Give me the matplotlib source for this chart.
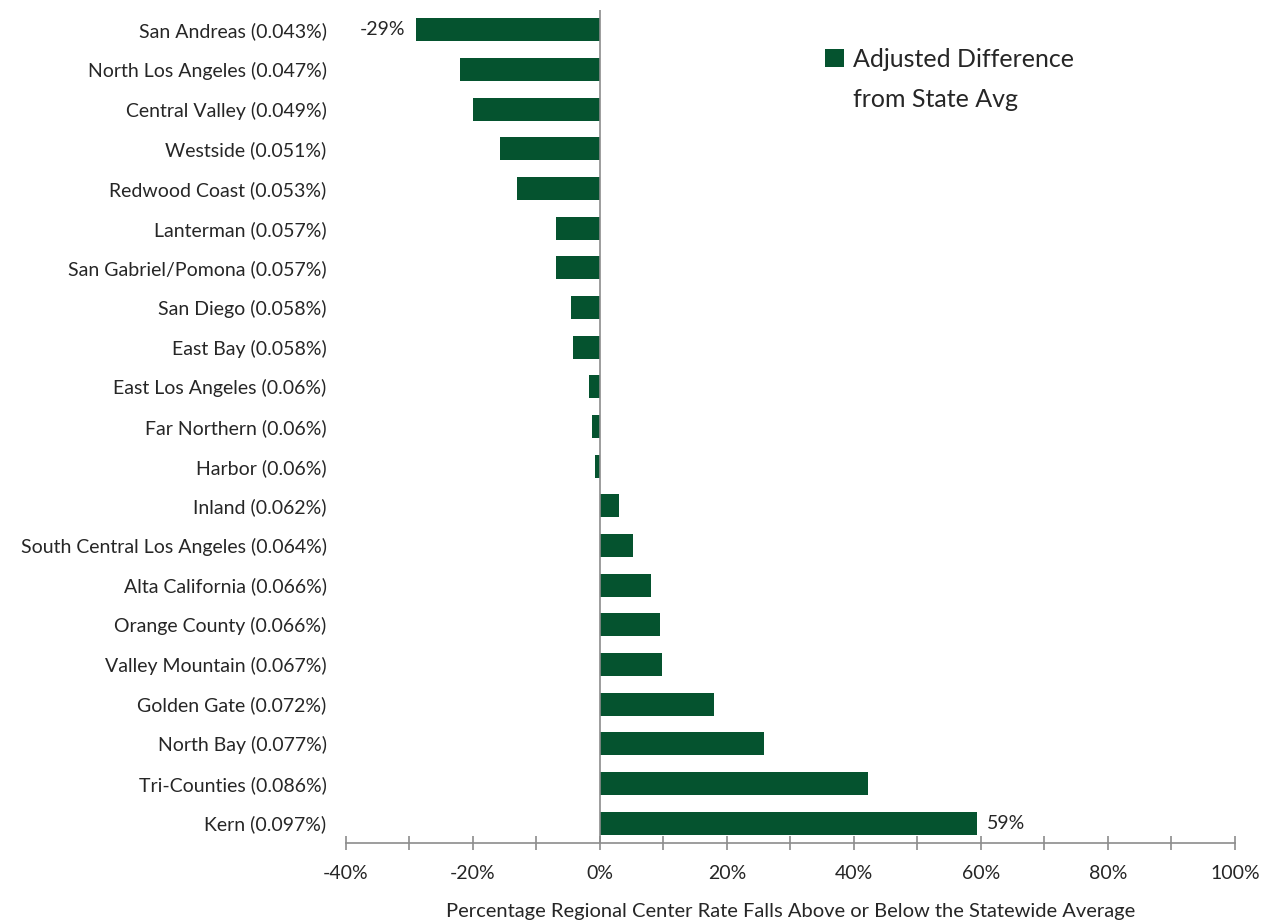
import matplotlib.pyplot as plt
import matplotlib.ticker as mticker
import numpy as np

plt.rcParams['font.family'] = ['Lato', 'DejaVu Sans']

regions = [
    "San Andreas (0.043%)", "North Los Angeles (0.047%)", "Central Valley (0.049%)",
    "Westside (0.051%)", "Redwood Coast (0.053%)", "Lanterman (0.057%)",
    "San Gabriel/Pomona (0.057%)", "San Diego (0.058%)", "East Bay (0.058%)",
    "East Los Angeles (0.06%)", "Far Northern (0.06%)", "Harbor (0.06%)",
    "Inland (0.062%)", "South Central Los Angeles (0.064%)", "Alta California (0.066%)",
    "Orange County (0.066%)", "Valley Mountain (0.067%)", "Golden Gate (0.072%)",
    "North Bay (0.077%)", "Tri-Counties (0.086%)", "Kern (0.097%)",
]
adjusted_diff = [
    -29.0, -22.0, -20.0, -15.7, -13.1, -7.0, -7.0, -4.6, -4.3, -1.7, -1.3, -0.8,
    3.0, 5.2, 8.0, 9.4, 9.8, 18.0, 25.8, 42.2, 59.4,
]
label_values = {0: "-29%", 20: "59%"}
legend_lines = ["Adjusted Difference", "from State Avg"]

GREEN = "#05532f"
TEXT = "#262626"
GREY = "#8c8c8c"

fig = plt.figure(figsize=(12.64, 9.23), dpi=100)
ax = fig.add_axes([0.2737, 0.0867, 0.7033, 0.9023])

y = np.arange(len(regions))
ax.barh(y, adjusted_diff, height=0.58, color=GREEN, label=legend_lines[0])
ax.set_ylim(len(regions) - 0.5, -0.5)
ax.set_xlim(-40, 100)

ax.axvline(0, color=GREY, lw=1.2, zorder=3)
for spine in ("left", "right", "top"):
    ax.spines[spine].set_visible(False)
ax.spines["bottom"].set_color(GREY)
ax.spines["bottom"].set_linewidth(1.2)

ax.set_yticks(y, regions)
ax.tick_params(axis="y", length=0, pad=14, labelsize=14, labelcolor=TEXT)
ax.xaxis.set_major_locator(mticker.MultipleLocator(20))
ax.xaxis.set_minor_locator(mticker.MultipleLocator(10))
ax.xaxis.set_major_formatter(mticker.FuncFormatter(lambda v, _: f"{v:.0f}%"))
ax.tick_params(axis="x", which="both", direction="inout", length=10, width=1.2,
               color=GREY, labelsize=14, labelcolor=TEXT, pad=11)

for idx, text in label_values.items():
    val = adjusted_diff[idx]
    off = -1.6 if val < 0 else 1.6
    ax.text(val + off, idx, text, ha="right" if val < 0 else "left", va="center",
            fontsize=14, color=TEXT)

ax.set_xlabel("Percentage Regional Center Rate Falls Above or Below the Statewide Average",
              fontsize=14.5, color=TEXT, labelpad=15)

leg = ax.legend(loc="upper left", bbox_to_anchor=(0.514, 0.982), frameon=False, fontsize=18,
                handlelength=0.75, handleheight=0.75, handletextpad=0.35, labelcolor=TEXT)

# second legend line, placed under the first one
fig.canvas.draw()
bb = leg.get_texts()[0].get_window_extent()
fig.text(bb.x0 / fig.dpi / fig.get_figwidth(), (bb.y0 - 40) / fig.dpi / fig.get_figheight(),
         legend_lines[1], fontsize=18, color=TEXT, ha="left", va="bottom")

fig.savefig("out.png", dpi=100)
